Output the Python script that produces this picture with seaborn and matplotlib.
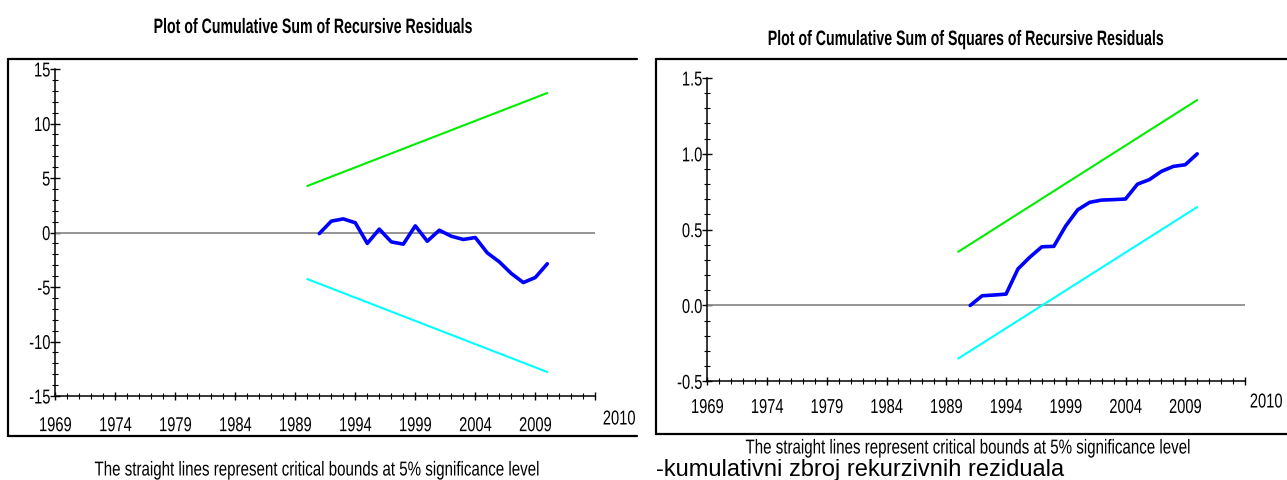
import seaborn as sns
import pandas as pd
import matplotlib.pyplot as plt
import matplotlib.ticker as ticker
import matplotlib.patheffects as pe
from matplotlib.lines import Line2D
from matplotlib.transforms import Affine2D

# values
years = [1991, 1992, 1993, 1994, 1995, 1996, 1997, 1998, 1999, 2000,
         2001, 2002, 2003, 2004, 2005, 2006, 2007, 2008, 2009, 2010]
cusum = [-0.1, 1.04, 1.25, 0.89, -1.0, 0.31, -0.86, -1.07, 0.61, -0.8,
         0.21, -0.34, -0.64, -0.46, -1.87, -2.69, -3.76, -4.59, -4.13, -2.87]
cusumsq = [0.0, 0.064, 0.069, 0.075, 0.241, 0.319, 0.387, 0.39, 0.525, 0.631,
           0.68, 0.695, 0.698, 0.702, 0.80, 0.83, 0.884, 0.917, 0.928, 1.0]

bound_years = [1990, 2010]
cusum_upper = [4.27, 12.8]
cusum_lower = [-4.27, -12.8]
cusumsq_upper = [0.354, 1.355]
cusumsq_lower = [-0.35, 0.649]

x_ticks = [1969, 1974, 1979, 1984, 1989, 1994, 1999, 2004, 2009, 2014]
x_labels = ["1969", "1974", "1979", "1984", "1989", "1994", "1999", "2004", "2009", ""]

title_left = "Plot of Cumulative Sum of Recursive Residuals"
title_right = "Plot of Cumulative Sum of Squares of Recursive Residuals"
caption = "The straight lines represent critical bounds at 5% significance level"
bottom_text = "-kumulativni zbroj rekurzivnih reziduala"


class Condense(pe.AbstractPathEffect):
    """squeeze text horizontally, the original uses a narrow font"""

    def __init__(self, sx, anchor="center"):
        super().__init__()
        self.sx = sx
        self.anchor = anchor

    def draw_path(self, renderer, gc, tpath, affine, rgbFace=None):
        ext = tpath.get_extents()
        if self.anchor == "right":
            piv = ext.x1
        elif self.anchor == "left":
            piv = ext.x0
        else:
            piv = (ext.x0 + ext.x1) / 2
        t = Affine2D().translate(-piv, 0).scale(self.sx, 1).translate(piv, 0) + affine
        renderer.draw_path(gc, tpath, t, rgbFace)


sns.set_style("white")
plt.rcParams["font.family"] = ["Liberation Sans", "DejaVu Sans"]
plt.rcParams["axes.unicode_minus"] = False
plt.rcParams["text.color"] = "black"
plt.rcParams["xtick.color"] = "black"
plt.rcParams["ytick.color"] = "black"

W, H = 1287, 481
fig = plt.figure(figsize=(W / 100, H / 100), dpi=100)


def px(x, y):
    return x / W, 1 - y / H


def axes_px(x0, x1, ytop, ybot):
    return fig.add_axes([x0 / W, 1 - ybot / H, (x1 - x0) / W, (ybot - ytop) / H])


def style_axes(ax, ymin, ymax, ymajor, yminor, yfmt, xpad):
    ax.set_xlim(1969, 2014)
    ax.set_ylim(ymin, ymax)
    ax.set_facecolor("none")
    for s in ["top", "right"]:
        ax.spines[s].set_visible(False)
    for s in ["left", "bottom"]:
        ax.spines[s].set_linewidth(1.1)
        ax.spines[s].set_color("black")
    ax.xaxis.set_major_locator(ticker.FixedLocator(x_ticks))
    ax.xaxis.set_major_formatter(ticker.FixedFormatter(x_labels))
    ax.xaxis.set_minor_locator(ticker.MultipleLocator(1))
    ax.yaxis.set_major_locator(ticker.MultipleLocator(ymajor))
    ax.yaxis.set_minor_locator(ticker.MultipleLocator(yminor))
    ax.yaxis.set_major_formatter(ticker.FormatStrFormatter(yfmt))
    ax.tick_params(axis="x", which="major", direction="inout", length=6, width=1,
                   labelsize=14.5, pad=xpad, bottom=True)
    ax.tick_params(axis="x", which="minor", direction="inout", length=4, width=0.8, bottom=True)
    ax.tick_params(axis="y", which="major", direction="inout", length=7, width=1,
                   labelsize=14.5, pad=0, left=True)
    ax.tick_params(axis="y", which="minor", direction="inout", length=4, width=0.8, left=True)
    ax.set_xlabel("")
    ax.set_ylabel("")
    ax.axhline(0, color="#8c8c8c", lw=1.3, zorder=1)
    for lab in ax.get_xticklabels():
        lab.set_path_effects([Condense(0.73)])
    for lab in ax.get_yticklabels():
        lab.set_path_effects([Condense(0.73, "right")])


# left panel: CUSUM
ax1 = axes_px(55.3, 595.3, 70, 397)
sns.lineplot(x=bound_years, y=cusum_upper, color="#00ee00", lw=1.5, ax=ax1)
sns.lineplot(x=bound_years, y=cusum_lower, color="#00ffff", lw=1.5, ax=ax1)
sns.lineplot(x=years, y=cusum, color="#0000ff", lw=2.6, ax=ax1)
style_axes(ax1, -15, 15, 5, 1, "%d", 11.5)

# right panel: CUSUM of squares
ax2 = axes_px(707.3, 1245, 79, 382.3)
sns.lineplot(x=bound_years, y=cusumsq_upper, color="#00ee00", lw=1.5, ax=ax2)
sns.lineplot(x=bound_years, y=cusumsq_lower, color="#00ffff", lw=1.5, ax=ax2)
sns.lineplot(x=years, y=cusumsq, color="#0000ff", lw=2.6, ax=ax2)
style_axes(ax2, -0.5, 1.5, 0.5, 0.1, "%.1f", 9)

# titles, captions and the odd end label
narrow = [Condense(0.68)]
fig.text(*px(314, 28.5), title_left, ha="center", va="center", fontsize=15,
         fontweight="bold", path_effects=narrow)
fig.text(*px(967, 40.5), title_right, ha="center", va="center", fontsize=15,
         fontweight="bold", path_effects=narrow)
fig.text(*px(318, 471), caption, ha="center", va="center", fontsize=14.5,
         path_effects=[Condense(0.75)])
fig.text(*px(969, 449), caption, ha="center", va="center", fontsize=14.5,
         path_effects=[Condense(0.75)])
fig.text(*px(619, 420), "2010", ha="center", va="center", fontsize=14.5,
         path_effects=[Condense(0.73)])
fig.text(*px(1266, 403), "2010", ha="center", va="center", fontsize=14.5,
         path_effects=[Condense(0.73)])
fig.text(*px(656, 476), bottom_text, ha="left", va="baseline", fontsize=17)

# frames around the two panels
for xs, ys in [
    ([7.5, 637], [59.5, 59.5]), ([7.5, 7.5], [59.5, 436.5]), ([7.5, 637], [436.5, 436.5]),
    ([656.5, 1290], [59.5, 59.5]), ([656.5, 656.5], [59.5, 435]), ([656.5, 1290], [435, 435]),
]:
    fig.add_artist(Line2D([x / W for x in xs], [1 - y / H for y in ys], color="black", lw=1.6))

fig.savefig("out.png", dpi=100)
